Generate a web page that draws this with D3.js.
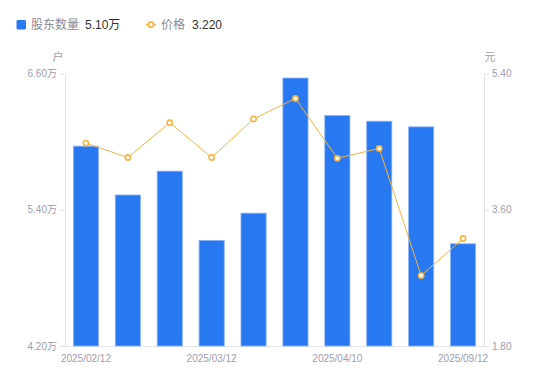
<!DOCTYPE html>
<html>
<head>
<meta charset="utf-8">
<script src="https://cdn.jsdelivr.net/npm/d3@7"></script>
<style>
  body { margin: 0; background: #fff; }
  svg text { font-family: "Liberation Sans", "Noto Sans CJK SC", sans-serif; }
</style>
</head>
<body>
<div id="chart"></div>
<script>
// data
var dates = ["2025/02/12", "2025/02/21", "2025/02/28", "2025/03/12", "2025/03/20",
             "2025/03/31", "2025/04/10", "2025/06/30", "2025/08/29", "2025/09/12"];
var holders = [5.96, 5.53, 5.74, 5.13, 5.37, 6.56, 6.23, 6.18, 6.13, 5.10];   // 万户
var prices = [4.48, 4.29, 4.75, 4.29, 4.80, 5.07, 4.28, 4.41, 2.73, 3.22];     // 元
var xTickLabels = ["2025/02/12", "2025/03/12", "2025/04/10", "2025/09/12"];
var leftTicks = [4.2, 5.4, 6.6];
var rightTicks = [1.8, 3.6, 5.4];

var width = 550, height = 381;
// note: "top" is taken by window.top, so use plot* names
var plotLeft = 65, plotRight = 484, plotTop = 73.5, plotBottom = 346;

var svg = d3.select("#chart").append("svg")
  .attr("width", width)
  .attr("height", height);

var x = d3.scaleBand()
  .domain(dates)
  .range([plotLeft, plotRight])
  .paddingInner(0.4)
  .paddingOuter(0.2);

var yL = d3.scaleLinear().domain([4.2, 6.6]).range([plotBottom, plotTop]);
var yR = d3.scaleLinear().domain([1.8, 5.4]).range([plotBottom, plotTop]);

var axisColor = "#e3e3e8", labelColor = "#9d9db0";

// left axis
var gl = svg.append("g")
  .attr("transform", "translate(" + plotLeft + ",0)")
  .call(d3.axisLeft(yL).tickValues(leftTicks).tickSize(5).tickSizeOuter(0)
    .tickFormat(function(d) { return d.toFixed(2) + "万"; }));

// right axis
var gr = svg.append("g")
  .attr("transform", "translate(" + plotRight + ",0)")
  .call(d3.axisRight(yR).tickValues(rightTicks).tickSize(5).tickSizeOuter(0)
    .tickFormat(function(d) { return d.toFixed(2); }));

// bottom axis
var gb = svg.append("g")
  .attr("transform", "translate(0," + plotBottom + ")")
  .call(d3.axisBottom(x).tickValues(xTickLabels).tickSize(0).tickSizeOuter(0).tickPadding(9));

[gl, gr, gb].forEach(function(g) {
  g.select(".domain").attr("stroke", axisColor);
  g.selectAll(".tick line").attr("stroke", axisColor);
  g.selectAll(".tick text")
    .attr("fill", labelColor)
    .style("font-family", "'Liberation Sans', 'Noto Sans CJK SC', sans-serif")
    .style("font-size", "10px");
});
gb.select(".domain").attr("d", "M" + plotLeft + ",0.5H" + plotRight);

// unit labels
svg.append("text").attr("x", 58).attr("y", 61).attr("text-anchor", "middle")
  .attr("fill", labelColor).style("font-size", "11px").text("户");
svg.append("text").attr("x", 490).attr("y", 61).attr("text-anchor", "middle")
  .attr("fill", labelColor).style("font-size", "11px").text("元");

// bars
svg.append("g").selectAll("rect")
  .data(holders)
  .enter()
  .append("rect")
    .attr("x", function(d, i) { return x(dates[i]); })
    .attr("y", function(d) { return yL(d); })
    .attr("width", x.bandwidth())
    .attr("height", function(d) { return plotBottom - yL(d); })
    .style("fill", "#2878f2")
    .style("stroke", "#8ab4f6")
    .style("stroke-width", 0.8);

// price line
var lineColor = "#f9b440";
var line = d3.line()
  .x(function(d, i) { return x(dates[i]) + x.bandwidth() / 2; })
  .y(function(d) { return yR(d); });

svg.append("path")
  .datum(prices)
  .attr("d", line)
  .attr("fill", "none")
  .attr("stroke", lineColor)
  .attr("stroke-width", 1);

svg.append("g").selectAll("circle")
  .data(prices)
  .enter()
  .append("circle")
    .attr("cx", function(d, i) { return x(dates[i]) + x.bandwidth() / 2; })
    .attr("cy", function(d) { return yR(d); })
    .attr("r", 2.6)
    .attr("fill", "#fff")
    .attr("stroke", lineColor)
    .attr("stroke-width", 1.6);

// legend
var lg = svg.append("g");
lg.append("rect").attr("x", 16.5).attr("y", 20).attr("width", 9.5).attr("height", 9.5)
  .attr("rx", 1.5).style("fill", "#2878f2");
lg.append("text").attr("x", 31).attr("y", 29).attr("fill", "#8a8a99")
  .style("font-size", "12px").text("股东数量");
lg.append("text").attr("x", 85).attr("y", 29).attr("fill", "#333")
  .style("font-size", "12px").text("5.10" + "万");

lg.append("line").attr("x1", 146).attr("x2", 156).attr("y1", 24.5).attr("y2", 24.5)
  .attr("stroke", lineColor).attr("stroke-width", 1.5);
lg.append("circle").attr("cx", 151).attr("cy", 24.5).attr("r", 2.6)
  .attr("fill", "#fff").attr("stroke", lineColor).attr("stroke-width", 1.6);
lg.append("text").attr("x", 161).attr("y", 29).attr("fill", "#8a8a99")
  .style("font-size", "12px").text("价格");
lg.append("text").attr("x", 192).attr("y", 29).attr("fill", "#333")
  .style("font-size", "12px").text(prices[prices.length - 1].toFixed(3));
</script>
</body>
</html>
